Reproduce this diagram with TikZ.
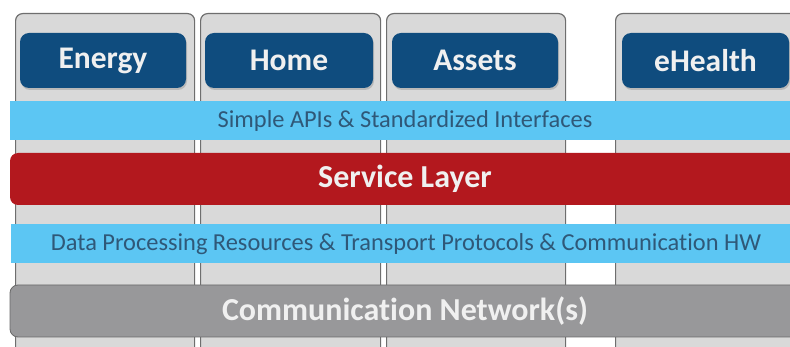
\documentclass[tikz,border=0pt]{standalone}
\usepackage{fontspec}
\setmainfont[RawFeature={-liga;-calt;-clig}]{Carlito}
\usetikzlibrary{shadows}
\definecolor{colfill}{HTML}{D9D9D9}
\definecolor{colline}{HTML}{6E6E6E}
\definecolor{btnblue}{HTML}{0F4C7E}
\definecolor{lightband}{HTML}{5CC6F3}
\definecolor{lighttext}{HTML}{2F5878}
\definecolor{redband}{HTML}{B3181E}
\definecolor{grayband}{HTML}{98989A}
\definecolor{grayline}{HTML}{6A6A6A}
\tikzset{
  colbox/.style={draw=colline, fill=colfill, line width=1.2pt, rounded corners=7pt,
    minimum height=400pt, anchor=north west, inner sep=0pt},
  btn/.style={fill=btnblue, rounded corners=9pt, minimum height=55pt, inner sep=0pt,
    text=white!94!black, font=\bfseries\fontsize{31.5}{32}\selectfont,
    drop shadow={opacity=0.35, shadow xshift=1pt, shadow yshift=-2pt}},
  thinband/.style={fill=lightband, minimum height=39pt, minimum width=790pt, inner sep=0pt,
    text=lighttext, font=\fontsize{24.4}{26}\selectfont},
  thickband/.style={rounded corners=8pt, minimum height=52pt, minimum width=790pt, inner sep=0pt,
    text=white!94!black, font=\bfseries\fontsize{32}{34}\selectfont}
}
\begin{document}
\begin{tikzpicture}[x=1pt,y=-1pt]
\useasboundingbox (0,0) rectangle (790,347);
\clip (0,0) rectangle (790,347);
\fill[white] (0,0) rectangle (790,347);
% columns
\node[colbox, minimum width=179pt] (col1) at (15,13) {};
\node[colbox, minimum width=180pt] (col2) at (200,13) {};
\node[colbox, minimum width=179pt] (col3) at (386,13) {};
\node[colbox, minimum width=200pt] (col4) at (615,13) {};
% buttons
\node[btn, minimum width=166pt] (energy) at (103,60.5) {Energy};
\node[btn, minimum width=168pt] (home) at (289,60.5) {Home};
\node[btn, minimum width=166pt] (assets) at (475,60.5) {Assets};
\node[btn, minimum width=167pt] (ehealth) at (705.5,60.5) {eHealth};
% bands
\node[thinband] (api) at (405,120.5) {Simple APIs \& Standardized Interfaces};
\node[thickband, fill=redband] (service) at (405,179) {Service Layer};
\node[thinband] (data) at (406,244) {Data Processing Resources \& Transport Protocols \& Communication HW};
\node[thickband, fill=grayband, draw=grayline, line width=0.8pt] (network) at (405,311) {Communication Network(s)};
\end{tikzpicture}
\end{document}
